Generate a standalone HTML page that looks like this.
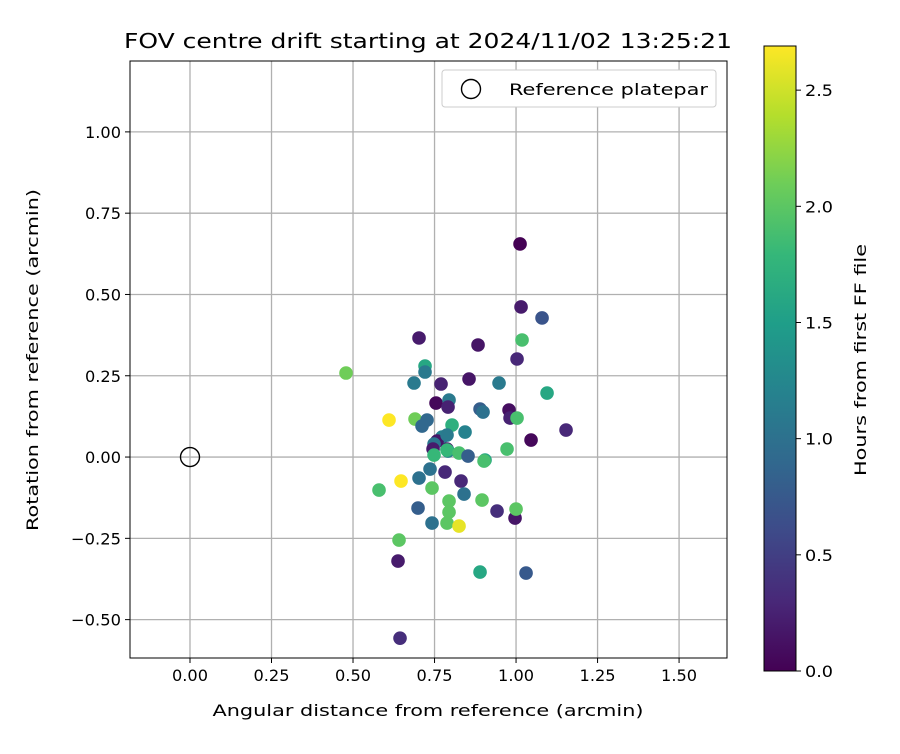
<!DOCTYPE html>
<html><head><meta charset="utf-8"><style>
body{margin:0;background:#fff;font-family:"DejaVu Sans","Liberation Sans",sans-serif}
svg text{font-family:"DejaVu Sans","Liberation Sans",sans-serif;fill:#000}
</style></head><body>
<svg id="c" width="900" height="750" xmlns="http://www.w3.org/2000/svg"></svg>
<script>
const px=[520,521,542,522,419,478,517,346,425,425,414,441,469,499,547,436,449,448,389,415,427,422,509,480,483,510,517,566,531,452,465,442,437,447,447,434,433,448,434,447,459,468,485,484,507,430,401,445,419,432,461,464,449,449,482,418,432,447,459,497,515,516,379,399,398,480,526,400];
const py=[244,307,318,340,338,345,359,373,366,372,383,384,379,383,393,403,400,407,420,419,420,426,410,409,412,418,418,430,440,425,432,437,441,435,449,444,449,451,455,450,453,456,460,461,449,469,481,472,478,488,481,494,501,512,500,508,523,523,526,511,518,509,490,540,561,572,573,638];
const hours=[0.0,0.2,0.7,1.9,0.2,0.15,0.3,2.1,1.6,1.1,1.1,0.25,0.15,1.1,1.6,0.05,1.1,0.25,2.7,2.1,0.9,0.9,0.1,0.8,1.0,0.25,1.9,0.3,0.05,1.7,1.2,1.2,0.15,1.1,0.2,1.05,0.2,1.2,1.8,1.8,1.9,0.8,1.6,1.9,1.9,1.0,2.7,0.3,1.0,2.0,0.3,1.0,2.0,2.0,2.0,0.8,1.0,2.0,2.6,0.35,0.15,2.0,1.9,2.0,0.2,1.6,0.75,0.35];
const xs=px.map(p=>(p-190)/326), ys=py.map(p=>(457-p)/325);
const xTicks=[0,0.25,0.5,0.75,1.0,1.25,1.5];
const yTicks=[-0.5,-0.25,0,0.25,0.5,0.75,1.0];
const cTicks=[0,0.5,1.0,1.5,2.0,2.5];
const L=130,R=727,T=61,B=658,X0=-0.184,X1=1.647,Y0=-0.618,Y1=1.218,CMAX=2.69;
const sx=v=>L+(v-X0)/(X1-X0)*(R-L), sy=v=>B-(v-Y0)/(Y1-Y0)*(B-T);
const vir=[[68,1,84],[72,40,120],[62,74,137],[49,104,142],[38,130,142],[31,158,137],[53,183,121],[109,205,89],[180,222,44],[253,231,37]];
function cmap(t){t=Math.max(0,Math.min(1,t))*9;const i=Math.min(8,Math.floor(t)),f=t-i,a=vir[i],b=vir[i+1];return `rgb(${a.map((v,k)=>Math.round(v+(b[k]-v)*f)).join(',')})`;}
const s=document.getElementById('c'),NS='http://www.w3.org/2000/svg';
function el(t,a,p){const e=document.createElementNS(NS,t);for(const k in a)e.setAttribute(k,a[k]);(p||s).appendChild(e);return e;}
function tx(x,y,str,a){const e=el('text',Object.assign({x:x,y:y,'font-size':16},a));e.textContent=str;return e;}
xTicks.forEach(v=>{const x=sx(v);
const g=el('line',{x1:x,x2:x,y1:T,y2:B,stroke:'#b0b0b0','stroke-width':1.3});


el('line',{x1:x,x2:x,y1:B,y2:B+5,stroke:'#000'});
const t=tx(x,B+23,v.toFixed(2),{'text-anchor':'middle',textLength:36,lengthAdjust:'spacingAndGlyphs'});

});
yTicks.forEach(v=>{const y=sy(v);
const g=el('line',{x1:L,x2:R,y1:y,y2:y,stroke:'#b0b0b0','stroke-width':1.3});


el('line',{x1:L-5,x2:L,y1:y,y2:y,stroke:'#000'});
const t=tx(L-9,y+6,(v<0?'\u2212':'')+Math.abs(v).toFixed(2),{'text-anchor':'end',textLength:v<0?50:36,lengthAdjust:'spacingAndGlyphs'});

});
xs.forEach((v,i)=>{const c=el('circle',{cx:sx(v),cy:sy(ys[i]),r:6.8,fill:cmap(hours[i]/CMAX)});

});
const ref=el('circle',{cx:sx(0),cy:sy(0),r:9.5,fill:'none',stroke:'#000','stroke-width':1.4});


el('rect',{x:L,y:T,width:R-L,height:B-T,fill:'none',stroke:'#000','stroke-width':1});
const lg=el('g',{});


el('rect',{x:442,y:70,width:274,height:37,rx:3,fill:'#fff',stroke:'#ccc'},lg);
el('circle',{cx:471,cy:89,r:9.5,fill:'none',stroke:'#000','stroke-width':1.4},lg);
const lt=tx(509,95,'Reference platepar',{textLength:199,lengthAdjust:'spacingAndGlyphs'});lg.appendChild(lt);
const tt=tx(428,48,'FOV centre drift starting at 2024/11/02 13:25:21',{'text-anchor':'middle','font-size':20,textLength:608,lengthAdjust:'spacingAndGlyphs'});


const xt=tx(428,716,'Angular distance from reference (arcmin)',{'text-anchor':'middle',textLength:431,lengthAdjust:'spacingAndGlyphs'});


const yt=tx(0,0,'Rotation from reference (arcmin)',{'text-anchor':'middle',transform:'translate(38,360) rotate(-90)',textLength:342,lengthAdjust:'spacingAndGlyphs'});


const CL=764,CR=796,CT=46,CB=671;
const defs=el('defs',{}),gr=el('linearGradient',{id:'vg',x1:0,y1:1,x2:0,y2:0},defs);
vir.forEach((c,i)=>el('stop',{offset:i/9,'stop-color':`rgb(${c})`},gr));
const cb=el('rect',{x:CL,y:CT,width:CR-CL,height:CB-CT,fill:'url(#vg)',stroke:'#000'});


cTicks.forEach(v=>{const y=CB-v/CMAX*(CB-CT);
el('line',{x1:CR,x2:CR+5,y1:y,y2:y,stroke:'#000'});
const t=tx(CR+9,y+6,v.toFixed(1),{textLength:28,lengthAdjust:'spacingAndGlyphs'});

});
const ct=tx(0,0,'Hours from first FF file',{'text-anchor':'middle',transform:'translate(866,360) rotate(-90)',textLength:232,lengthAdjust:'spacingAndGlyphs'});


</script>
</body></html>
